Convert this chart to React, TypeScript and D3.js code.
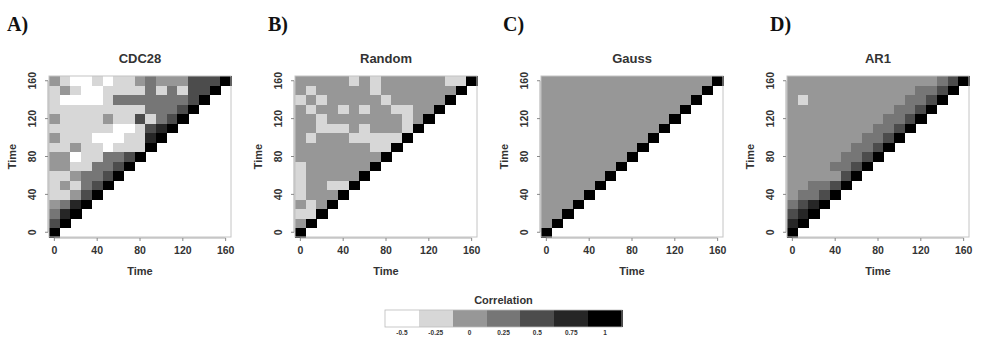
import React from 'react';
import * as d3 from 'd3';

// correlation classes used by the colour key
const levels = [-0.5, -0.25, 0, 0.25, 0.5, 0.75, 1];
const levelLabels = ['-0.5', '-0.25', '0', '0.25', '0.5', '0.75', '1'];
const levelColors = ['#ffffff', '#d7d7d7', '#979797', '#767676', '#4c4c4c', '#262626', '#000000'];

const times = [0, 10, 20, 30, 40, 50, 60, 70, 80, 90, 100, 110, 120, 130, 140, 150, 160];
const ticks = [0, 40, 80, 120, 160];

// one string per time row (bottom row first); each digit is an index into `levels`
const cdc28Rows = [
  '6',
  '46',
  '356',
  '2356',
  '11246',
  '121346',
  '1123346',
  '22113346',
  '220113346',
  '1121101116',
  '21110001156',
  '111111001456',
  '2111121141346',
  '11111111133346',
  '100001333333346',
  '1210011113131446',
  '21001011232224446',
];

const randomRows = [
  '6',
  '26',
  '116',
  '2126',
  '12226',
  '122116',
  '1222226',
  '12222226',
  '222222226',
  '2222222116',
  '21222111116',
  '221112122216',
  '2212222222126',
  '21221212211226',
  '121222221222226',
  '2122222122222226',
  '22222121222222116',
];

const gaussRows = [
  '6',
  '26',
  '226',
  '2226',
  '22226',
  '222226',
  '2222226',
  '22222226',
  '222222226',
  '2222222226',
  '22222222226',
  '222222222226',
  '2222222222226',
  '22222222222226',
  '222222222222226',
  '2222222222222226',
  '22222222222222226',
];

const ar1Rows = [
  '6',
  '56',
  '456',
  '3456',
  '23346',
  '223346',
  '2222246',
  '22223346',
  '222223346',
  '2222223346',
  '22222223346',
  '222222223346',
  '2222222223346',
  '22222222223346',
  '212222222223346',
  '2222222222223346',
  '22222222222222346',
];

const panelTitles = ['CDC28', 'Random', 'Gauss', 'AR1'];
const panelTags = ['A)', 'B)', 'C)', 'D)'];
const panelRows = [cdc28Rows, randomRows, gaussRows, ar1Rows];

const W = 983;
const H = 338;
const boxW = 182;
const boxH = 161;
const boxTop = 76;
const panelLeft = [49, 295, 541, 787];
const tagX = [7, 268, 503, 770];

const sans = "'Liberation Sans', Arial, sans-serif";
const serif = "'Liberation Serif', 'Times New Roman', serif";

const color = d3.scaleOrdinal<number, string>().domain(levels).range(levelColors);

const Panel: React.FC<{ idx: number }> = ({ idx }) => {
  const rows = panelRows[idx];
  const x = d3.scaleLinear().domain([-5, 165]).range([0, boxW]);
  const y = d3.scaleLinear().domain([-5, 165]).range([boxH, 0]);

  const cells: { t1: number; t2: number; v: number }[] = [];
  rows.forEach((row, j) => {
    row.split('').forEach((ch, i) => {
      cells.push({ t1: times[i], t2: times[j], v: levels[+ch] });
    });
  });

  return (
    <g transform={`translate(${panelLeft[idx]},${boxTop})`}>
      <text x={tagX[idx] - panelLeft[idx]} y={-45} fontFamily={serif} fontWeight="bold" fontSize={20} fill="#111">
        {panelTags[idx]}
      </text>
      <text x={boxW / 2} y={-13} textAnchor="middle" fontFamily={sans} fontWeight="bold" fontSize={13} fill="#333">
        {panelTitles[idx]}
      </text>
      <g shapeRendering="crispEdges">
        {cells.map((c, k) => (
          <rect
            key={k}
            x={x(c.t1 - 5)}
            y={y(c.t2 + 5)}
            width={x(c.t1 + 5) - x(c.t1 - 5) + 0.5}
            height={y(c.t2 - 5) - y(c.t2 + 5) + 0.5}
            fill={color(c.v)}
          />
        ))}
      </g>
      <rect x={0} y={0} width={boxW} height={boxH} fill="none" stroke="#c4c4c4" strokeWidth={1} />
      {/* x axis */}
      <line x1={x(0)} x2={x(160)} y1={boxH + 1} y2={boxH + 1} stroke="#aaa" />
      {ticks.map(t => (
        <g key={'x' + t} transform={`translate(${x(t)},${boxH + 1})`}>
          <line y2={3} stroke="#888" />
          <text y={16} textAnchor="middle" fontFamily={sans} fontWeight="bold" fontSize={10.5} fill="#333">{t}</text>
        </g>
      ))}
      <text x={boxW / 2} y={boxH + 38} textAnchor="middle" fontFamily={sans} fontWeight="bold" fontSize={11} fill="#333">Time</text>
      {/* y axis */}
      <line x1={-1} x2={-1} y1={y(0)} y2={y(160)} stroke="#aaa" />
      {ticks.map(t => (
        <g key={'y' + t} transform={`translate(-1,${y(t)})`}>
          <line x2={-3} stroke="#888" />
          <text transform="translate(-12,0) rotate(-90)" textAnchor="middle" fontFamily={sans} fontWeight="bold" fontSize={10.5} fill="#333">{t}</text>
        </g>
      ))}
      <text transform={`translate(-33,${boxH / 2}) rotate(-90)`} textAnchor="middle" fontFamily={sans} fontWeight="bold" fontSize={11} fill="#333">Time</text>
    </g>
  );
};

const Legend: React.FC = () => {
  const lx = d3.scaleBand<string>().domain(levelLabels).range([385, 622]);
  return (
    <g>
      <text x={(385 + 622) / 2} y={304} textAnchor="middle" fontFamily={sans} fontWeight="bold" fontSize={11} fill="#333">Correlation</text>
      <g shapeRendering="crispEdges">
        {levels.map((v, i) => (
          <rect key={i} x={lx(levelLabels[i])} y={310} width={lx.bandwidth() + 0.5} height={17} fill={color(v)} />
        ))}
      </g>
      <rect x={385} y={310} width={237} height={17} fill="none" stroke="#bbb" strokeWidth={0.8} />
      {levelLabels.map(l => (
        <text key={l} x={(lx(l) ?? 0) + lx.bandwidth() / 2} y={335} textAnchor="middle" fontFamily={sans} fontWeight="bold" fontSize={6.5} fill="#333">{l}</text>
      ))}
    </g>
  );
};

export default function App() {
  return (
    <svg width={W} height={H} style={{ position: 'absolute', left: 0, top: 0, background: '#fff' }}>
      {panelTitles.map((_, i) => <Panel key={i} idx={i} />)}
      <Legend />
    </svg>
  );
}
